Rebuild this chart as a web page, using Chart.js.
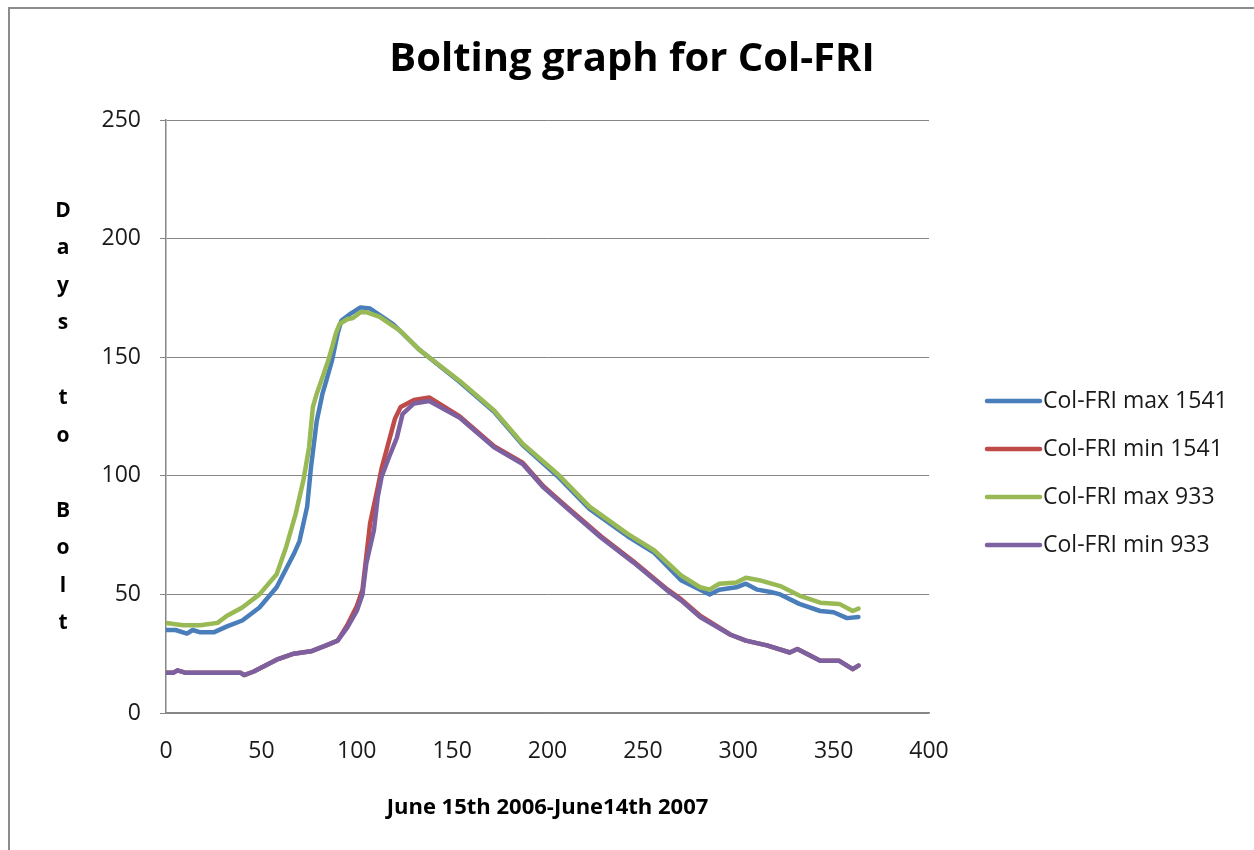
<!DOCTYPE html>
<html>
<head>
<meta charset="utf-8">
<title>Bolting graph for Col-FRI</title>
<script src="https://cdn.jsdelivr.net/npm/chart.js@4.4.1/dist/chart.umd.min.js"></script>
<style>
  html, body { margin: 0; padding: 0; background: #fff; }
  canvas { display: block; }
</style>
</head>
<body>
<canvas id="bolting-chart" width="1254" height="850"></canvas>
<script>
// ── Data ──────────────────────────────────────────────────────
const chartTitle = 'Bolting graph for Col-FRI';
const seriesLabels = ['Col-FRI max 1541', 'Col-FRI min 1541', 'Col-FRI max 933', 'Col-FRI min 933'];
const seriesColors = ['#4a7ebb', '#be4b48', '#98b954', '#7d60a0'];

const max1541Days = [0, 5, 11, 14, 18, 25, 32, 40, 49, 58, 67, 70, 74, 76, 79, 82, 84, 87, 90, 92, 97, 102, 107, 119, 133, 154, 172, 187, 205, 222, 242, 256, 270, 280, 285, 290, 299, 304, 310, 317, 322, 332, 343, 350, 357, 363];
const max1541Vals = [35, 35, 33.5, 35, 34, 34, 36.5, 39, 44.5, 53, 67, 72.5, 87, 103.5, 123, 134.5, 140, 148.5, 160, 165.5, 168.5, 171, 170.5, 164, 153, 139.5, 127, 113, 100, 86, 74.5, 67.5, 56, 52, 50, 52, 53, 54.5, 52, 51, 50, 46, 43, 42.5, 40, 40.5];

const min1541Days = [0, 4, 6, 10, 39, 41, 46, 58, 67, 76, 84, 90, 95, 100, 103, 105, 107, 111, 113, 116, 118, 120, 123, 130, 138, 154, 172, 187, 198, 210, 228, 245, 263, 270, 280, 296, 304, 315, 327, 331, 343, 353, 360, 363];
const min1541Vals = [17, 17, 18, 17, 17, 16, 17.5, 22.5, 25, 26, 28.5, 30.5, 37, 45, 52, 66, 80, 95, 103, 112, 118, 124, 129, 132, 133, 125, 112.5, 105.5, 95.5, 87, 74.5, 64, 52, 48, 41, 33, 30.5, 28.5, 25.5, 27, 22, 22, 18.5, 20];

const max933Days = [0, 9, 18, 27, 32, 40, 49, 58, 63, 68, 72, 75, 77, 79, 82, 85, 87, 89, 91, 95, 98, 102, 105, 112, 123, 133, 154, 172, 187, 205, 222, 242, 256, 270, 280, 285, 290, 299, 304, 311, 322, 332, 343, 353, 360, 363];
const max933Vals = [38, 37, 37, 38, 41, 44.5, 50, 58.5, 70, 84, 98, 112, 129, 134.5, 141.5, 148.5, 154, 160, 164, 166, 166.5, 169, 169, 167, 161, 153, 140, 127.5, 113.5, 101, 87, 75.5, 68.5, 58, 53, 52, 54.5, 55, 57, 56, 53.5, 49.5, 46.5, 46, 43, 44];

const min933Days = [0, 4, 6, 10, 39, 41, 46, 58, 67, 76, 84, 90, 95, 100, 103, 105, 109, 111, 113, 117, 121, 124, 130, 138, 154, 172, 187, 198, 210, 228, 245, 263, 270, 280, 296, 304, 315, 327, 331, 343, 353, 360, 363];
const min933Vals = [17, 17, 18, 17, 17, 16, 17.5, 22.5, 25, 26, 28.5, 30.5, 36, 43, 50, 63, 77, 91, 99.5, 108, 116, 126, 130.5, 131.5, 124.5, 112, 105, 95, 86.5, 74, 63.5, 51.5, 47.5, 40.5, 33, 30.5, 28.5, 25.5, 27, 22, 22, 18.5, 20];

const xTicks = [0, 50, 100, 150, 200, 250, 300, 350, 400];
const yTicks = [0, 50, 100, 150, 200, 250];
const yTitleLines = ['D', 'a', 'y', 's', '', 't', 'o', '', 'B', 'o', 'l', 't'];

const FONT = "'Open Sans', 'Liberation Sans', sans-serif";
const GRID = '#868686';

const toPoints = (days, vals) => days.map((d, i) => ({ x: d, y: vals[i] }));

// ── Small plugins: page frame, title, stacked y title, line legend ──
const framePlugin = {
    id: 'frame',
    beforeDraw(chart) {
        const { ctx } = chart;
        ctx.save();
        ctx.fillStyle = '#fff';
        ctx.fillRect(0, 0, chart.width, chart.height);
        ctx.strokeStyle = '#8c8c8c';
        ctx.lineWidth = 2;
        ctx.strokeRect(9, 8, chart.width + 20, chart.height + 20);
        ctx.restore();
    }
};

const textPlugin = {
    id: 'texts',
    afterDraw(chart) {
        const { ctx } = chart;
        ctx.save();
        ctx.fillStyle = '#000';
        ctx.textAlign = 'center';
        ctx.textBaseline = 'middle';
        // main title
        ctx.font = `bold 40px ${FONT}`;
        ctx.fillText(chartTitle, 632, 60);
        // stacked y-axis title
        ctx.font = `bold 21px ${FONT}`;
        yTitleLines.forEach((ch, i) => ctx.fillText(ch, 63, 211 + i * 37.5));
        ctx.restore();
    }
};

const lineLegendPlugin = {
    id: 'lineLegend',
    afterDraw(chart) {
        const { ctx } = chart;
        ctx.save();
        ctx.font = `23px ${FONT}`;
        ctx.textBaseline = 'middle';
        chart.data.datasets.forEach((ds, i) => {
            const y = 401 + i * 48;
            ctx.strokeStyle = ds.borderColor;
            ctx.lineWidth = 4.5;
            ctx.lineCap = 'round';
            ctx.beginPath();
            ctx.moveTo(987, y);
            ctx.lineTo(1040, y);
            ctx.stroke();
            ctx.fillStyle = '#1a1a1a';
            ctx.fillText(ds.label, 1043, y);
        });
        ctx.restore();
    }
};

// ── Chart ────────────────────────────────────────────────────
const allDays = [max1541Days, min1541Days, max933Days, min933Days];
const allVals = [max1541Vals, min1541Vals, max933Vals, min933Vals];

new Chart(document.getElementById('bolting-chart').getContext('2d'), {
    type: 'line',
    data: {
        datasets: seriesLabels.map((label, i) => ({
            label,
            data: toPoints(allDays[i], allVals[i]),
            borderColor: seriesColors[i],
            backgroundColor: seriesColors[i],
            borderWidth: 4.5,
            borderJoinStyle: 'round',
            borderCapStyle: 'round',
            pointRadius: 0,
            tension: 0,
            order: 4 - i
        }))
    },
    options: {
        responsive: false,
        animation: false,
        layout: { padding: { left: 0, right: 325, top: 120, bottom: 0 } },
        plugins: {
            legend: { display: false },
            tooltip: { enabled: false },
            title: { display: false }
        },
        scales: {
            x: {
                type: 'linear',
                min: 0,
                max: 400,
                afterFit: s => { s.height = 137; },
                afterBuildTicks: s => { s.ticks = xTicks.map(v => ({ value: v })); },
                grid: { display: false, drawTicks: false },
                border: { display: true, color: GRID, width: 1.5 },
                ticks: { color: '#1a1a1a', font: { family: FONT, size: 23 }, padding: 25, maxRotation: 0 },
                title: {
                    display: true,
                    text: 'June 15th 2006-June14th 2007',
                    color: '#000',
                    font: { family: FONT, size: 22, weight: 'bold' },
                    padding: { top: 0, bottom: 29 }
                }
            },
            y: {
                min: 0,
                max: 250,
                afterFit: s => { s.width = 166; },
                afterBuildTicks: s => { s.ticks = yTicks.map(v => ({ value: v })); },
                grid: { color: GRID, lineWidth: 1, tickLength: 6 },
                border: { display: true, color: GRID, width: 1.5 },
                ticks: { color: '#1a1a1a', font: { family: FONT, size: 23 }, padding: 19 }
            }
        }
    },
    plugins: [framePlugin, textPlugin, lineLegendPlugin]
});
</script>
</body>
</html>
